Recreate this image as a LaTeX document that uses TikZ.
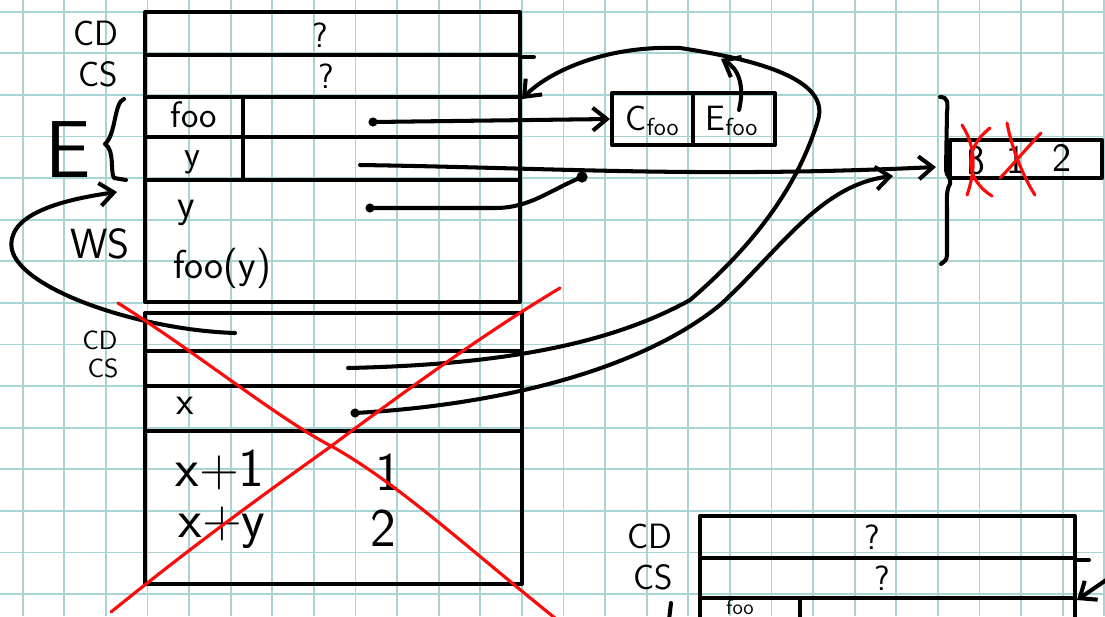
\documentclass[tikz,border=0pt]{standalone}
\usepackage{fontspec}
\usepackage{tikz}
\usetikzlibrary{arrows.meta}

\definecolor{gridteal}{RGB}{168,212,212}
\definecolor{inkred}{RGB}{250,12,12}

\begin{document}
\begin{tikzpicture}[
        x=0.02cm, y=-0.02cm,
        gridline/.style={gridteal, line width=1pt},
        pen/.style={line width=2.3pt, line cap=round, line join=round},
        redpen/.style={inkred, line width=1.8pt, line cap=round},
        arrow/.style={pen, -{Straight Barb[length=8pt, width=13pt]}},
        cell/.style={draw, pen, inner sep=0pt, minimum width=#1},
        lab/.style={inner sep=0pt, font=\sffamily\fontsize{20}{22}\selectfont},
        smalllab/.style={inner sep=0pt, font=\sffamily\fontsize{15}{17}\selectfont},
        celltxt/.style={inner sep=0pt, font=\sffamily\fontsize{21}{22}\selectfont},
        txt/.style={inner sep=0pt, font=\sffamily\fontsize{23}{25}\selectfont},
        bigtxt/.style={inner sep=0pt, font=\sffamily\fontsize{31}{33}\selectfont}
    ]
    \useasboundingbox (0,0) rectangle (1105,616);
    \begin{scope}
    \clip (0,0) rectangle (1105,616);

    % squared paper
    \foreach \k in {0,...,26}
        \draw[gridline] ({22.7+41.6*\k},0) -- ({22.7+41.6*\k},616);
    \foreach \k in {0,...,14}
        \draw[gridline] (0,{11.7+41.6*\k}) -- (1105,{11.7+41.6*\k});

    % current frame
    \node[cell=7.5cm, minimum height=0.86cm] (cd1) at (332.5,33.5) {};
    \node[cell=7.5cm, minimum height=0.84cm] (cs1) at (332.5,76) {};
    \node[cell=1.96cm, minimum height=0.8cm] (foo) at (194,117) {};
    \node[cell=5.54cm, minimum height=0.8cm] (fooval) at (381.5,117) {};
    \node[cell=1.96cm, minimum height=0.86cm] (y) at (194,158.5) {};
    \node[cell=5.54cm, minimum height=0.86cm] (yval) at (381.5,158.5) {};
    \node[cell=7.5cm, minimum height=2.44cm] (ws1) at (332.5,241) {};
    \draw[pen] (cd1.south east) -- ++(12,0);

    \node[lab] (q1) at (320,35) {?};
    \node[lab] (q2) at (326,76) {?};
    \node[celltxt] (fooname) at (194,115) {foo};
    \node[celltxt] (yname) at (192,162) {y};
    \node[txt] (wsy) at (186,213) {y};
    \node[txt] (wscall) at (222,268) {foo(y)};

    \node[lab] (cdlab) at (96,33) {CD};
    \node[lab] (cslab) at (98,74) {CS};
    \node[inner sep=0pt, font=\sffamily\fontsize{46}{48}\selectfont] (elab) at (68,150) {E};
    \node[lab, font=\sffamily\fontsize{24}{26}\selectfont] (wslab) at (100,244) {WS};
    \draw[pen] (124,99) .. controls (114,102) and (116,135) .. (105,144)
        .. controls (115,150) and (110,172) .. (114,178) -- (126,180);

    % old frame, crossed out
    \node[cell=7.54cm, minimum height=0.76cm] (cd2) at (333.5,332) {};
    \node[cell=7.54cm, minimum height=0.7cm] (cs2) at (333.5,368.5) {};
    \node[cell=7.54cm, minimum height=0.9cm] (xrow) at (333.5,408.5) {};
    \node[cell=7.54cm, minimum height=3.06cm] (ws2) at (333.5,507.5) {};

    \node[smalllab] (cdlab2) at (100,340) {CD};
    \node[smalllab] (cslab2) at (103,368) {CS};
    \node[txt] (x) at (185,406) {x};
    \node[bigtxt] (e1) at (220,470) {x+1};
    \node[bigtxt] (v1) at (388,472) {1};
    \node[bigtxt] (e2) at (222,528) {x+y};
    \node[bigtxt] (v2) at (383,528) {2};

    % closure of foo
    \node[cell=1.62cm, minimum height=1.04cm] (cfoo) at (652.5,119) {};
    \node[cell=1.64cm, minimum height=1.04cm] (efoo) at (734,119) {};
    \node[lab] (cfooname) at (652.5,121) {C\textsubscript{foo}};
    \node[lab] (efooname) at (732,121) {E\textsubscript{foo}};

    % memory cell
    \node[cell=3.04cm, minimum height=0.76cm] (mem) at (1026,159) {};
    \node[txt] (m0) at (976,160) {ß};
    \node[txt] (m1) at (1016,160) {1};
    \node[txt] (m2) at (1062,158) {2};
    \draw[pen] (940,97) .. controls (948,97) and (948,103) .. (947,112) -- (946,170)
        .. controls (946,176) and (952,178) .. (950,184)
        .. controls (946,190) and (947,200) .. (947,210) -- (947,255)
        .. controls (947,260) and (944,262) .. (941,264);
    \draw[redpen] (962,125) .. controls (978,150) and (974,175) .. (967,195);
    \draw[redpen] (990,128) .. controls (962,150) and (966,180) .. (992,196);
    \draw[redpen] (1007,123) .. controls (1012,150) and (1025,180) .. (1035,195);
    \draw[redpen] (1041,133) .. controls (1025,150) and (1010,168) .. (1000,178);

    % new frame
    \node[cell=7.5cm, minimum height=0.84cm] (cd3) at (887.5,537) {};
    \node[cell=7.5cm, minimum height=0.8cm] (cs3) at (887.5,578) {};
    \node[cell=2cm, minimum height=1.04cm] (foo3) at (750,624) {};
    \node[cell=5.5cm, minimum height=1.04cm] (fooval3) at (937.5,624) {};
    \draw[pen] (cd3.south east) -- ++(12,0);
    \node[lab] (q3) at (872,537) {?};
    \node[lab] (q4) at (882,578) {?};
    \node[lab] (cdlab3) at (650,536) {CD};
    \node[lab] (cslab3) at (653,577) {CS};
    \node[inner sep=0pt, font=\sffamily\fontsize{12}{13}\selectfont] (fooname3) at (740,607) {foo};
    \draw[pen] (671,603) -- (669,620);

    % pointers
    \coordinate (fooptr) at (373,122);
    \coordinate (yptr) at (360,165);
    \coordinate (wsyptr) at (370,208);
    \coordinate (merge) at (582,177);
    \coordinate (locin) at (936,167);
    \coordinate (cs2ptr) at (348,368);
    \coordinate (xptr) at (355,413);
    \coordinate (xin) at (893,176);
    \coordinate (efooptr) at (739,110);
    \coordinate (envtip) at (721,59);
    \coordinate (cd2ptr) at (235,333);
    \coordinate (wsin) at (117,192);
    \coordinate (nextenv) at (1112,576);

    \fill (fooptr) circle (2.6pt);
    \fill (wsyptr) circle (2.6pt);
    \fill (merge) circle (3.2pt);
    \fill (xptr) circle (2.6pt);

    \draw[arrow] (fooptr) -- (cfoo.west);
    \draw[arrow] (yptr) .. controls (560,168) and (700,178) .. (locin);
    \draw[pen] (wsyptr) -- (495,208) .. controls (530,208) and (550,190) .. (merge);
    \draw[arrow] (cs2ptr) .. controls (480,365) and (600,350) .. (690,300)
        .. controls (760,240) and (800,180) .. (818,120)
        .. controls (830,80) and (760,60) .. (680,48)
        .. controls (600,45) and (545,75) .. (cs1.south east);
    \draw[arrow] (efooptr) .. controls (745,85) and (738,68) .. (envtip);
    \draw[arrow] (xptr) .. controls (500,405) and (640,370) .. (720,305)
        .. controls (780,250) and (820,185) .. (xin);
    \draw[arrow] (cd2ptr) .. controls (140,330) and (22,290) .. (12,250)
        .. controls (5,215) and (60,200) .. (wsin);
    \draw[arrow] (nextenv) -- (cs3.south east);

    % crossing out
    \draw[redpen] (118,303) .. controls (200,355) and (280,420) .. (333,447)
        .. controls (400,485) and (470,550) .. (555,618);
    \draw[redpen] (111,612) .. controls (200,540) and (270,490) .. (330,447)
        .. controls (420,380) and (490,330) .. (560,288);
    \end{scope}
\end{tikzpicture}
\end{document}
